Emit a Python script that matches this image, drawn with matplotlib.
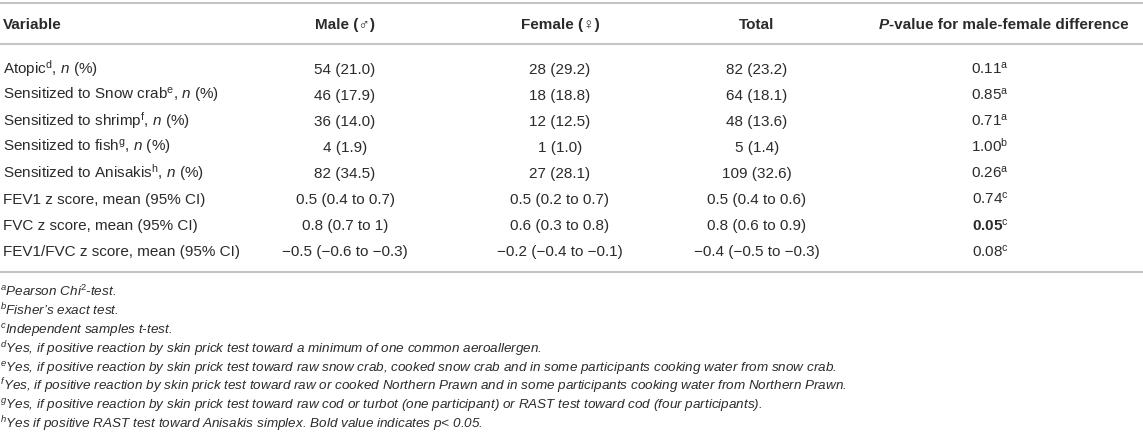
# Table: sensitization and lung function by sex, drawn as text on a blank axes

import matplotlib
matplotlib.use("Agg")
import matplotlib.pyplot as plt

plt.rcParams["font.family"] = ["Liberation Sans", "DejaVu Sans"]
plt.rcParams["mathtext.fontset"] = "custom"
plt.rcParams["mathtext.rm"] = "Liberation Sans"
plt.rcParams["mathtext.it"] = "Liberation Sans:italic"
plt.rcParams["mathtext.bf"] = "Liberation Sans:bold"

HEADERS = ["Variable", "Male (♂)", "Female (♀)", "Total"]
P_HEADER = ["P", "-value for male-female difference"]

VARIABLES = [
    r"Atopic$^{\mathrm{d}}$, $\mathit{n}$ (%)",
    r"Sensitized to Snow crab$^{\mathrm{e}}$, $\mathit{n}$ (%)",
    r"Sensitized to shrimp$^{\mathrm{f}}$, $\mathit{n}$ (%)",
    r"Sensitized to fish$^{\mathrm{g}}$, $\mathit{n}$ (%)",
    r"Sensitized to Anisakis$^{\mathrm{h}}$, $\mathit{n}$ (%)",
    "FEV1 z score, mean (95% CI)",
    "FVC z score, mean (95% CI)",
    "FEV1/FVC z score, mean (95% CI)",
]
MALE = ["54 (21.0)", "46 (17.9)", "36 (14.0)", "4 (1.9)", "82 (34.5)",
        "0.5 (0.4 to 0.7)", "0.8 (0.7 to 1)", "−0.5 (−0.6 to −0.3)"]
FEMALE = ["28 (29.2)", "18 (18.8)", "12 (12.5)", "1 (1.0)", "27 (28.1)",
          "0.5 (0.2 to 0.7)", "0.6 (0.3 to 0.8)", "−0.2 (−0.4 to −0.1)"]
TOTAL = ["82 (23.2)", "64 (18.1)", "48 (13.6)", "5 (1.4)", "109 (32.6)",
         "0.5 (0.4 to 0.6)", "0.8 (0.6 to 0.9)", "−0.4 (−0.5 to −0.3)"]
P_VALUES = ["0.11", "0.85", "0.71", "1.00", "0.26", "0.74", "0.05", "0.08"]
P_TESTS = ["a", "a", "a", "b", "a", "c", "c", "c"]
P_BOLD = [False, False, False, False, False, False, True, False]

FOOTNOTES = [
    ("a", r"Pearson Chi$^{\mathit{2}}$-test."),
    ("b", "Fisher’s exact test."),
    ("c", "Independent samples t-test."),
    ("d", "Yes, if positive reaction by skin prick test toward a minimum of "
          "one common aeroallergen."),
    ("e", "Yes, if positive reaction by skin prick test toward raw snow crab, "
          "cooked snow crab and in some participants cooking water from snow crab."),
    ("f", "Yes, if positive reaction by skin prick test toward raw or cooked "
          "Northern Prawn and in some participants cooking water from Northern Prawn."),
    ("g", "Yes, if positive reaction by skin prick test toward raw cod or turbot "
          "(one participant) or RAST test toward cod (four participants)."),
    ("h", "Yes if positive RAST test toward Anisakis simplex. Bold value "
          "indicates p< 0.05."),
]

W, H = 1143, 443
TEXT = "#2b2b2b"
RULE = "#c4c4c4"
FS = 11.0
FS_NOTE = 9.7


def main():
    fig = plt.figure(figsize=(W / 100, H / 100), dpi=100)
    ax = fig.add_axes([0, 0, 1, 1])
    ax.set_xlim(0, W)
    ax.set_ylim(H, 0)
    ax.axis("off")

    col_x = [3, 345, 560, 757]
    p_x = 990
    # baselines (pixels from top); text sits on these
    head_base = 28.5
    row_base0, row_dy = 73.5, 26.1
    note_base0, note_dy = 296.5, 18.8

    for y in (3, 44, 272):
        ax.plot([0, W], [y, y], color=RULE, lw=1.5, solid_capstyle="butt")

    # header row
    ax.text(col_x[0], head_base, HEADERS[0], ha="left", va="baseline",
            fontsize=FS, fontweight="bold", color=TEXT)
    for x, label in zip(col_x[1:], HEADERS[1:]):
        ax.text(x, head_base, label, ha="center", va="baseline",
                fontsize=FS, fontweight="bold", color=TEXT)
    draw_runs(fig, ax, 1004, head_base, [
        (P_HEADER[0], dict(fontweight="bold", fontstyle="italic")),
        (P_HEADER[1], dict(fontweight="bold")),
    ])

    # body rows
    for i in range(len(VARIABLES)):
        y = row_base0 + i * row_dy
        ax.text(col_x[0], y, VARIABLES[i], ha="left", va="baseline",
                fontsize=FS, color=TEXT)
        for x, col in zip(col_x[1:], (MALE, FEMALE, TOTAL)):
            ax.text(x, y, col[i], ha="center", va="baseline",
                    fontsize=FS, color=TEXT)
        if P_BOLD[i]:
            label = r"$\mathbf{%s}^{\mathrm{%s}}$" % (P_VALUES[i], P_TESTS[i])
        else:
            label = r"%s$^{\mathrm{%s}}$" % (P_VALUES[i], P_TESTS[i])
        ax.text(p_x, y, label, ha="center", va="baseline",
                fontsize=FS, color=TEXT)

    # footnotes
    for i, (mark, note) in enumerate(FOOTNOTES):
        y = note_base0 + i * note_dy
        ax.text(0, y, r"$^{\mathit{%s}}$" % mark + note, ha="left",
                va="baseline", fontsize=FS_NOTE, fontstyle="italic",
                color=TEXT)

    fig.savefig("out.png", dpi=100, facecolor="white")


def draw_runs(fig, ax, xc, y, runs):
    # lay out differently styled pieces side by side, centred on xc
    renderer = fig.canvas.get_renderer()
    widths = []
    for text, style in runs:
        t = ax.text(0, y, text, fontsize=FS, **style)
        bb = t.get_window_extent(renderer=renderer)
        widths.append(bb.width)
        t.remove()
    x = xc - sum(widths) / 2
    for (text, style), w in zip(runs, widths):
        ax.text(x, y, text, ha="left", va="baseline", fontsize=FS,
                color=TEXT, **style)
        x += w

    return None


if __name__ == "__main__":
    main()
